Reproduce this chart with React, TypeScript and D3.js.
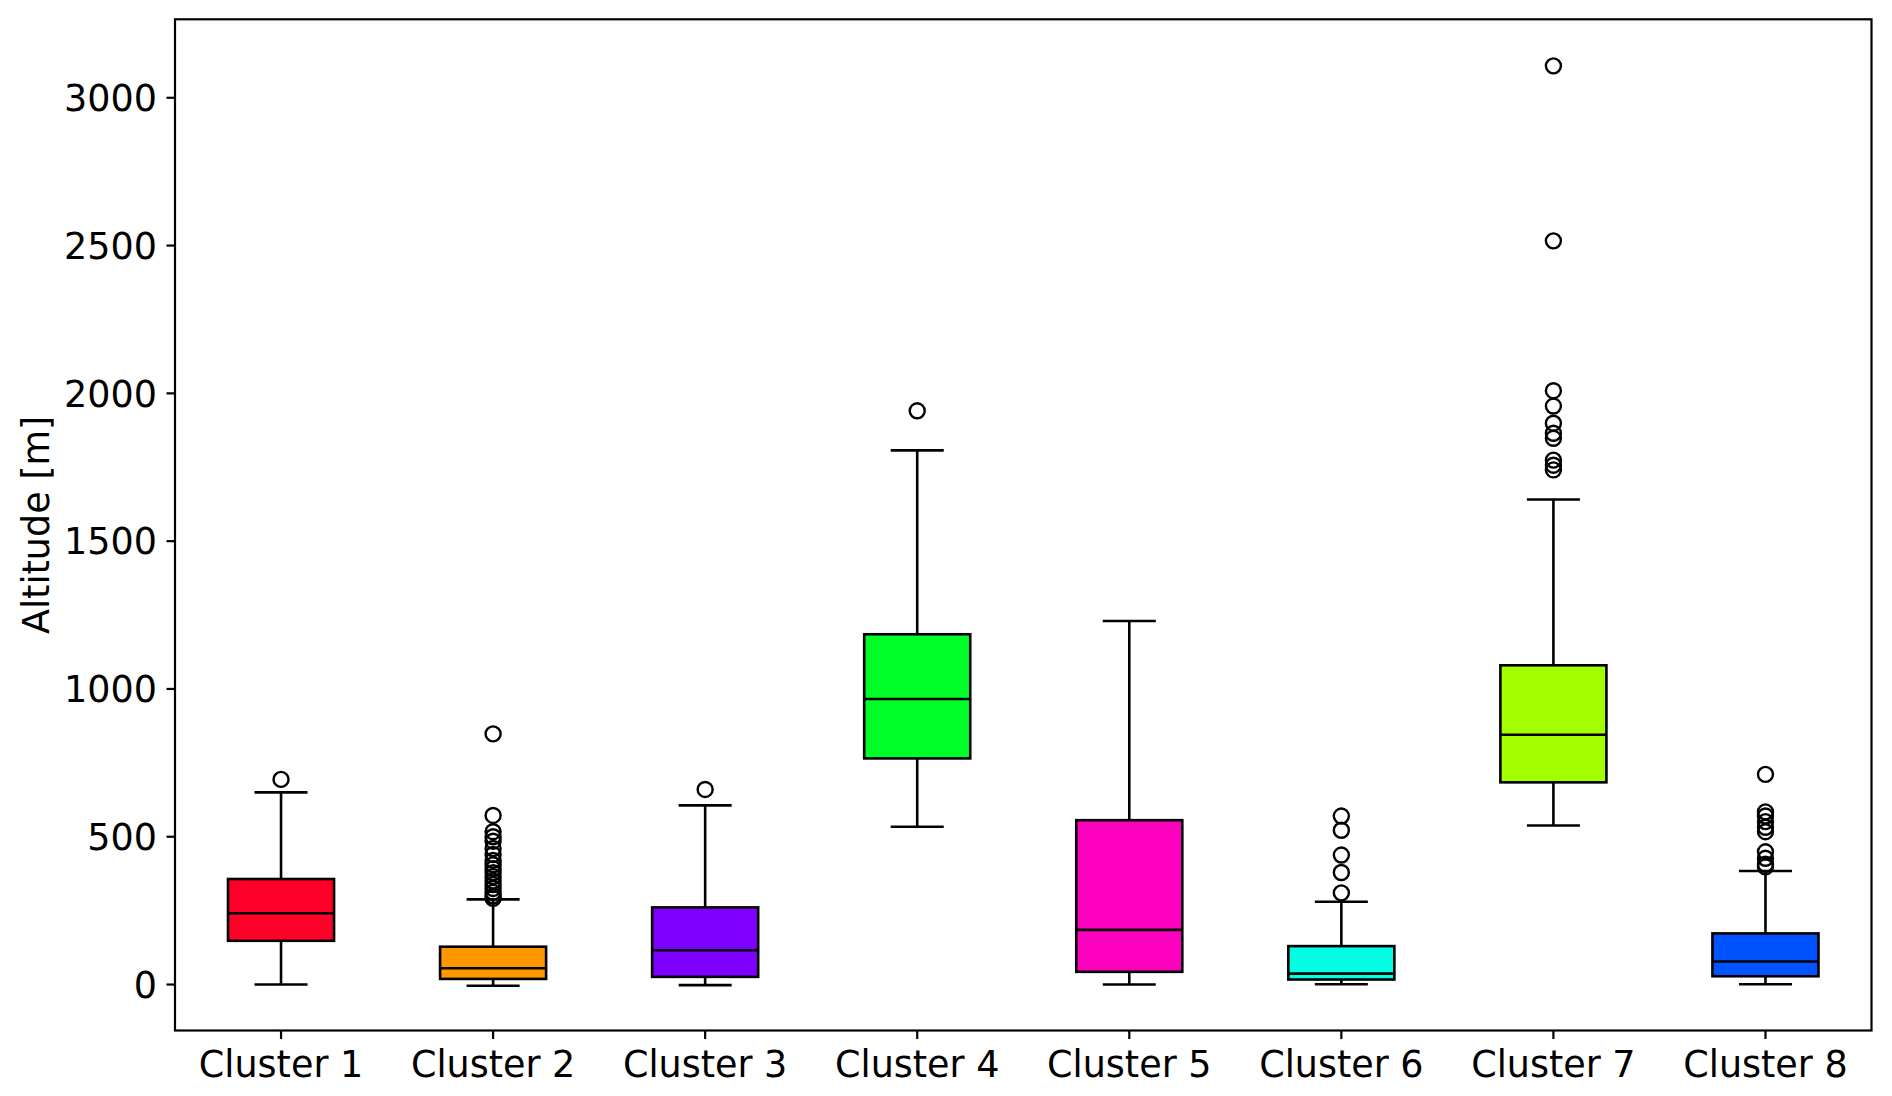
import React from "react";
import * as d3 from "d3";

const categories = ["Cluster 1", "Cluster 2", "Cluster 3", "Cluster 4", "Cluster 5", "Cluster 6", "Cluster 7", "Cluster 8"];
const colors = ["#ff0029", "#ff9800", "#7f00ff", "#00ff29", "#ff00bf", "#00ffe5", "#a3ff00", "#0054ff"];
const whiskerLow = [0, -4, -2, 534, 0, 1, 538, 1];
const q1 = [148, 19, 26, 765, 43, 17, 684, 28];
const median = [241, 55, 116, 966, 185, 37, 845, 78];
const q3 = [357, 128, 261, 1185, 556, 130, 1080, 173];
const whiskerHigh = [650, 288, 606, 1807, 1230, 280, 1641, 384];
const outliers = [
  [694],
  [848, 572, 517, 500, 485, 460, 440, 420, 405, 392, 378, 365, 350, 338, 325, 312, 300, 292],
  [660],
  [1941],
  [],
  [570, 522, 438, 379, 310],
  [3108, 2516, 2009, 1957, 1899, 1865, 1848, 1774, 1757, 1741],
  [711, 584, 570, 551, 532, 517, 449, 427, 407, 398],
];
const yTicks = [0, 500, 1000, 1500, 2000, 2500, 3000];

const W = 1892, H = 1096;
const L = 175, R = 1871.5, T = 19.3, B = 1030.5;
const FONT = "DejaVu Sans, sans-serif";
const FS = 36.5;

export default function App() {
  const x = d3.scaleLinear().domain([0.5, 8.5]).range([L, R]);
  const y = d3.scaleLinear().domain([-155.5, 3265.5]).range([B, T]);
  const bw = x(1.25) - x(1);
  const cw = x(1.125) - x(1);
  const lw = 2.6;
  return (
    <div style={{ position: "fixed", left: 0, top: 0, background: "#fff" }}>
      <svg width={W} height={H} style={{ display: "block" }} fontFamily={FONT}>
        <rect x={0} y={0} width={W} height={H} fill="#fff" />
        {categories.map((c, i) => {
          const cx = x(i + 1);
          return (
            <g key={c}>
              <line x1={cx} x2={cx} y1={y(q3[i])} y2={y(whiskerHigh[i])} stroke="#000" strokeWidth={lw} />
              <line x1={cx} x2={cx} y1={y(q1[i])} y2={y(whiskerLow[i])} stroke="#000" strokeWidth={lw} />
              <line x1={cx - cw} x2={cx + cw} y1={y(whiskerHigh[i])} y2={y(whiskerHigh[i])} stroke="#000" strokeWidth={lw} />
              <line x1={cx - cw} x2={cx + cw} y1={y(whiskerLow[i])} y2={y(whiskerLow[i])} stroke="#000" strokeWidth={lw} />
              <rect x={cx - bw} width={2 * bw} y={y(q3[i])} height={y(q1[i]) - y(q3[i])} fill={colors[i]} stroke="#000" strokeWidth={lw} />
              <line x1={cx - bw} x2={cx + bw} y1={y(median[i])} y2={y(median[i])} stroke="#000" strokeWidth={lw} />
              {outliers[i].map((v, j) => (
                <circle key={j} cx={cx} cy={y(v)} r={7.5} fill="none" stroke="#000" strokeWidth={2.4} />
              ))}
            </g>
          );
        })}
        <rect x={L} y={T} width={R - L} height={B - T} fill="none" stroke="#000" strokeWidth={2.2} />
        {yTicks.map((t) => (
          <g key={t}>
            <line x1={L - 8.5} x2={L} y1={y(t)} y2={y(t)} stroke="#000" strokeWidth={2.2} />
            <text x={157} y={y(t) + 13.3} textAnchor="end" fontSize={FS} fill="#000">{t}</text>
          </g>
        ))}
        {categories.map((c, i) => (
          <g key={"xt" + c}>
            <line x1={x(i + 1)} x2={x(i + 1)} y1={B} y2={B + 8.5} stroke="#000" strokeWidth={2.2} />
            <text x={x(i + 1)} y={1076.5} textAnchor="middle" fontSize={FS} fill="#000">{c}</text>
          </g>
        ))}
        <text transform={`translate(48.5, ${(T + B) / 2}) rotate(-90)`} textAnchor="middle" fontSize={FS} fill="#000">Altitude [m]</text>
      </svg>
    </div>
  );
}
